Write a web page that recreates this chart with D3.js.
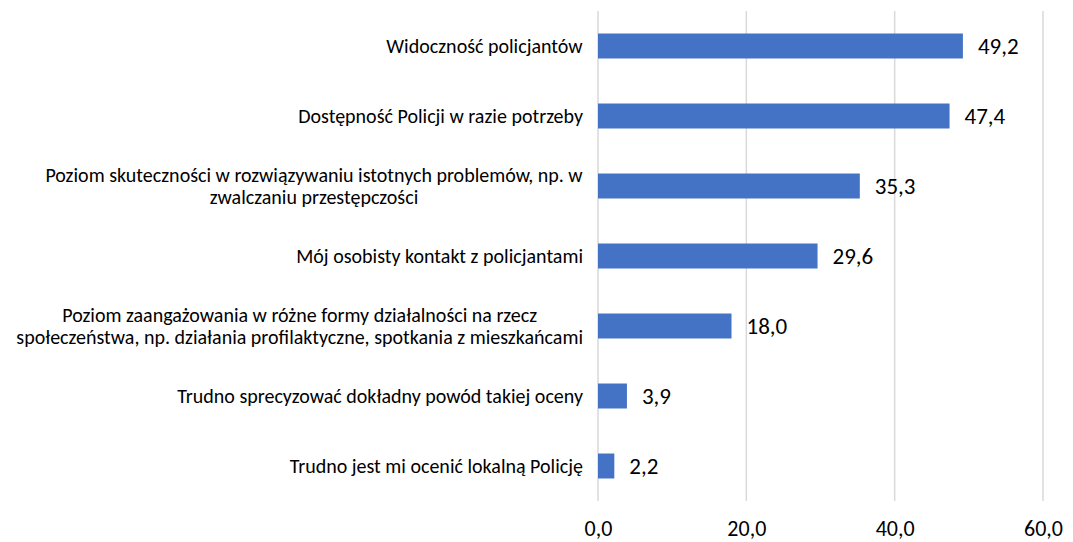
<!DOCTYPE html>
<html lang="pl">
<head>
    <meta charset="UTF-8">
    <title>Ocena Policji</title>
    <script src="https://cdn.jsdelivr.net/npm/d3@7"></script>
    <style>
        body { margin: 0; background: #fff; }
        text { font-family: Carlito, Lato, "Noto Sans", sans-serif; fill: #000; }
        .grid line { stroke: #d9d9d9; stroke-width: 1.5; }
        .bar { fill: #4472c4; }
    </style>
</head>
<body>

<svg width="1073" height="542"></svg>

<script>

    // categories, one array of lines per label (wrapped as in the original)
    var categories = [
        ["Widoczność policjantów"],
        ["Dostępność Policji w razie potrzeby"],
        ["Poziom skuteczności w rozwiązywaniu istotnych problemów, np. w", "zwalczaniu przestępczości"],
        ["Mój osobisty kontakt z policjantami"],
        ["Poziom zaangażowania w różne formy działalności na rzecz", "społeczeństwa, np. działania profilaktyczne, spotkania z mieszkańcami"],
        ["Trudno sprecyzować dokładny powód takiej oceny"],
        ["Trudno jest mi ocenić lokalną Policję"]
    ];
    var values = [49.2, 47.4, 35.3, 29.6, 18.0, 3.9, 2.2];
    var ticks = [0, 20, 40, 60];

    // note: "top" is reserved on window, so plot bounds get their own names
    var plotLeft = 598, plotRight = 1043, plotTop = 11, plotBottom = 501;

    var svg = d3.select("svg");

    var x = d3.scaleLinear().domain([0, 60]).range([plotLeft, plotRight]);
    var y = d3.scaleBand()
            .domain(d3.range(categories.length))
            .range([plotTop, plotBottom])
            .paddingInner(0.643)
            .paddingOuter(0.3215);

    var fmt = function(v) {
        return d3.format(".1f")(v).replace(".", ",");
    };

    // vertical gridlines
    svg.append("g")
            .attr("class", "grid")
            .selectAll("line")
            .data(ticks)
            .enter()
            .append("line")
            .attr("x1", function(d) { return x(d); })
            .attr("x2", function(d) { return x(d); })
            .attr("y1", plotTop)
            .attr("y2", plotBottom);

    // axis labels (baseline near the bottom edge, like the original)
    var axis = d3.axisBottom(x).tickValues(ticks).tickFormat(fmt).tickSize(0).tickPadding(0);
    var ax = svg.append("g")
            .attr("transform", "translate(0," + 536 + ")")
            .call(axis);
    ax.select(".domain").remove();
    ax.selectAll("text")
            .attr("dy", "0")
            .style("font-size", "22px")
            .style("font-family", "Carlito, Lato, 'Noto Sans', sans-serif");

    // bars
    svg.selectAll("rect.bar")
            .data(values)
            .enter()
            .append("rect")
            .attr("class", "bar")
            .attr("x", x(0))
            .attr("y", function(d, i) { return y(i); })
            .attr("width", function(d) { return x(d) - x(0); })
            .attr("height", y.bandwidth());

    // value labels
    svg.selectAll("text.value")
            .data(values)
            .enter()
            .append("text")
            .attr("class", "value")
            .attr("x", function(d) { return x(d) + 15; })
            .attr("y", function(d, i) { return y(i) + y.bandwidth() / 2; })
            .attr("dy", "0.36em")
            .style("font-size", "23px")
            .text(fmt);

    // category labels
    var lineH = 22;
    var lab = svg.selectAll("text.cat")
            .data(categories)
            .enter()
            .append("text")
            .attr("class", "cat")
            .attr("text-anchor", "middle")
            .style("font-size", "20px");

    lab.each(function(lines, i) {
        var t = d3.select(this);
        var cy = y(i) + y.bandwidth() / 2;
        lines.forEach(function(s, j) {
            t.append("tspan")
                    .attr("x", 0)
                    .attr("y", cy + (j - (lines.length - 1) / 2) * lineH)
                    .attr("dy", "0.35em")
                    .text(s);
        });
    });

    // right-align the label block, lines centred within it
    lab.each(function() {
        var t = d3.select(this);
        var w = this.getBBox().width;
        t.selectAll("tspan").attr("x", 583 - w / 2);
    });

</script>

</body>
</html>
